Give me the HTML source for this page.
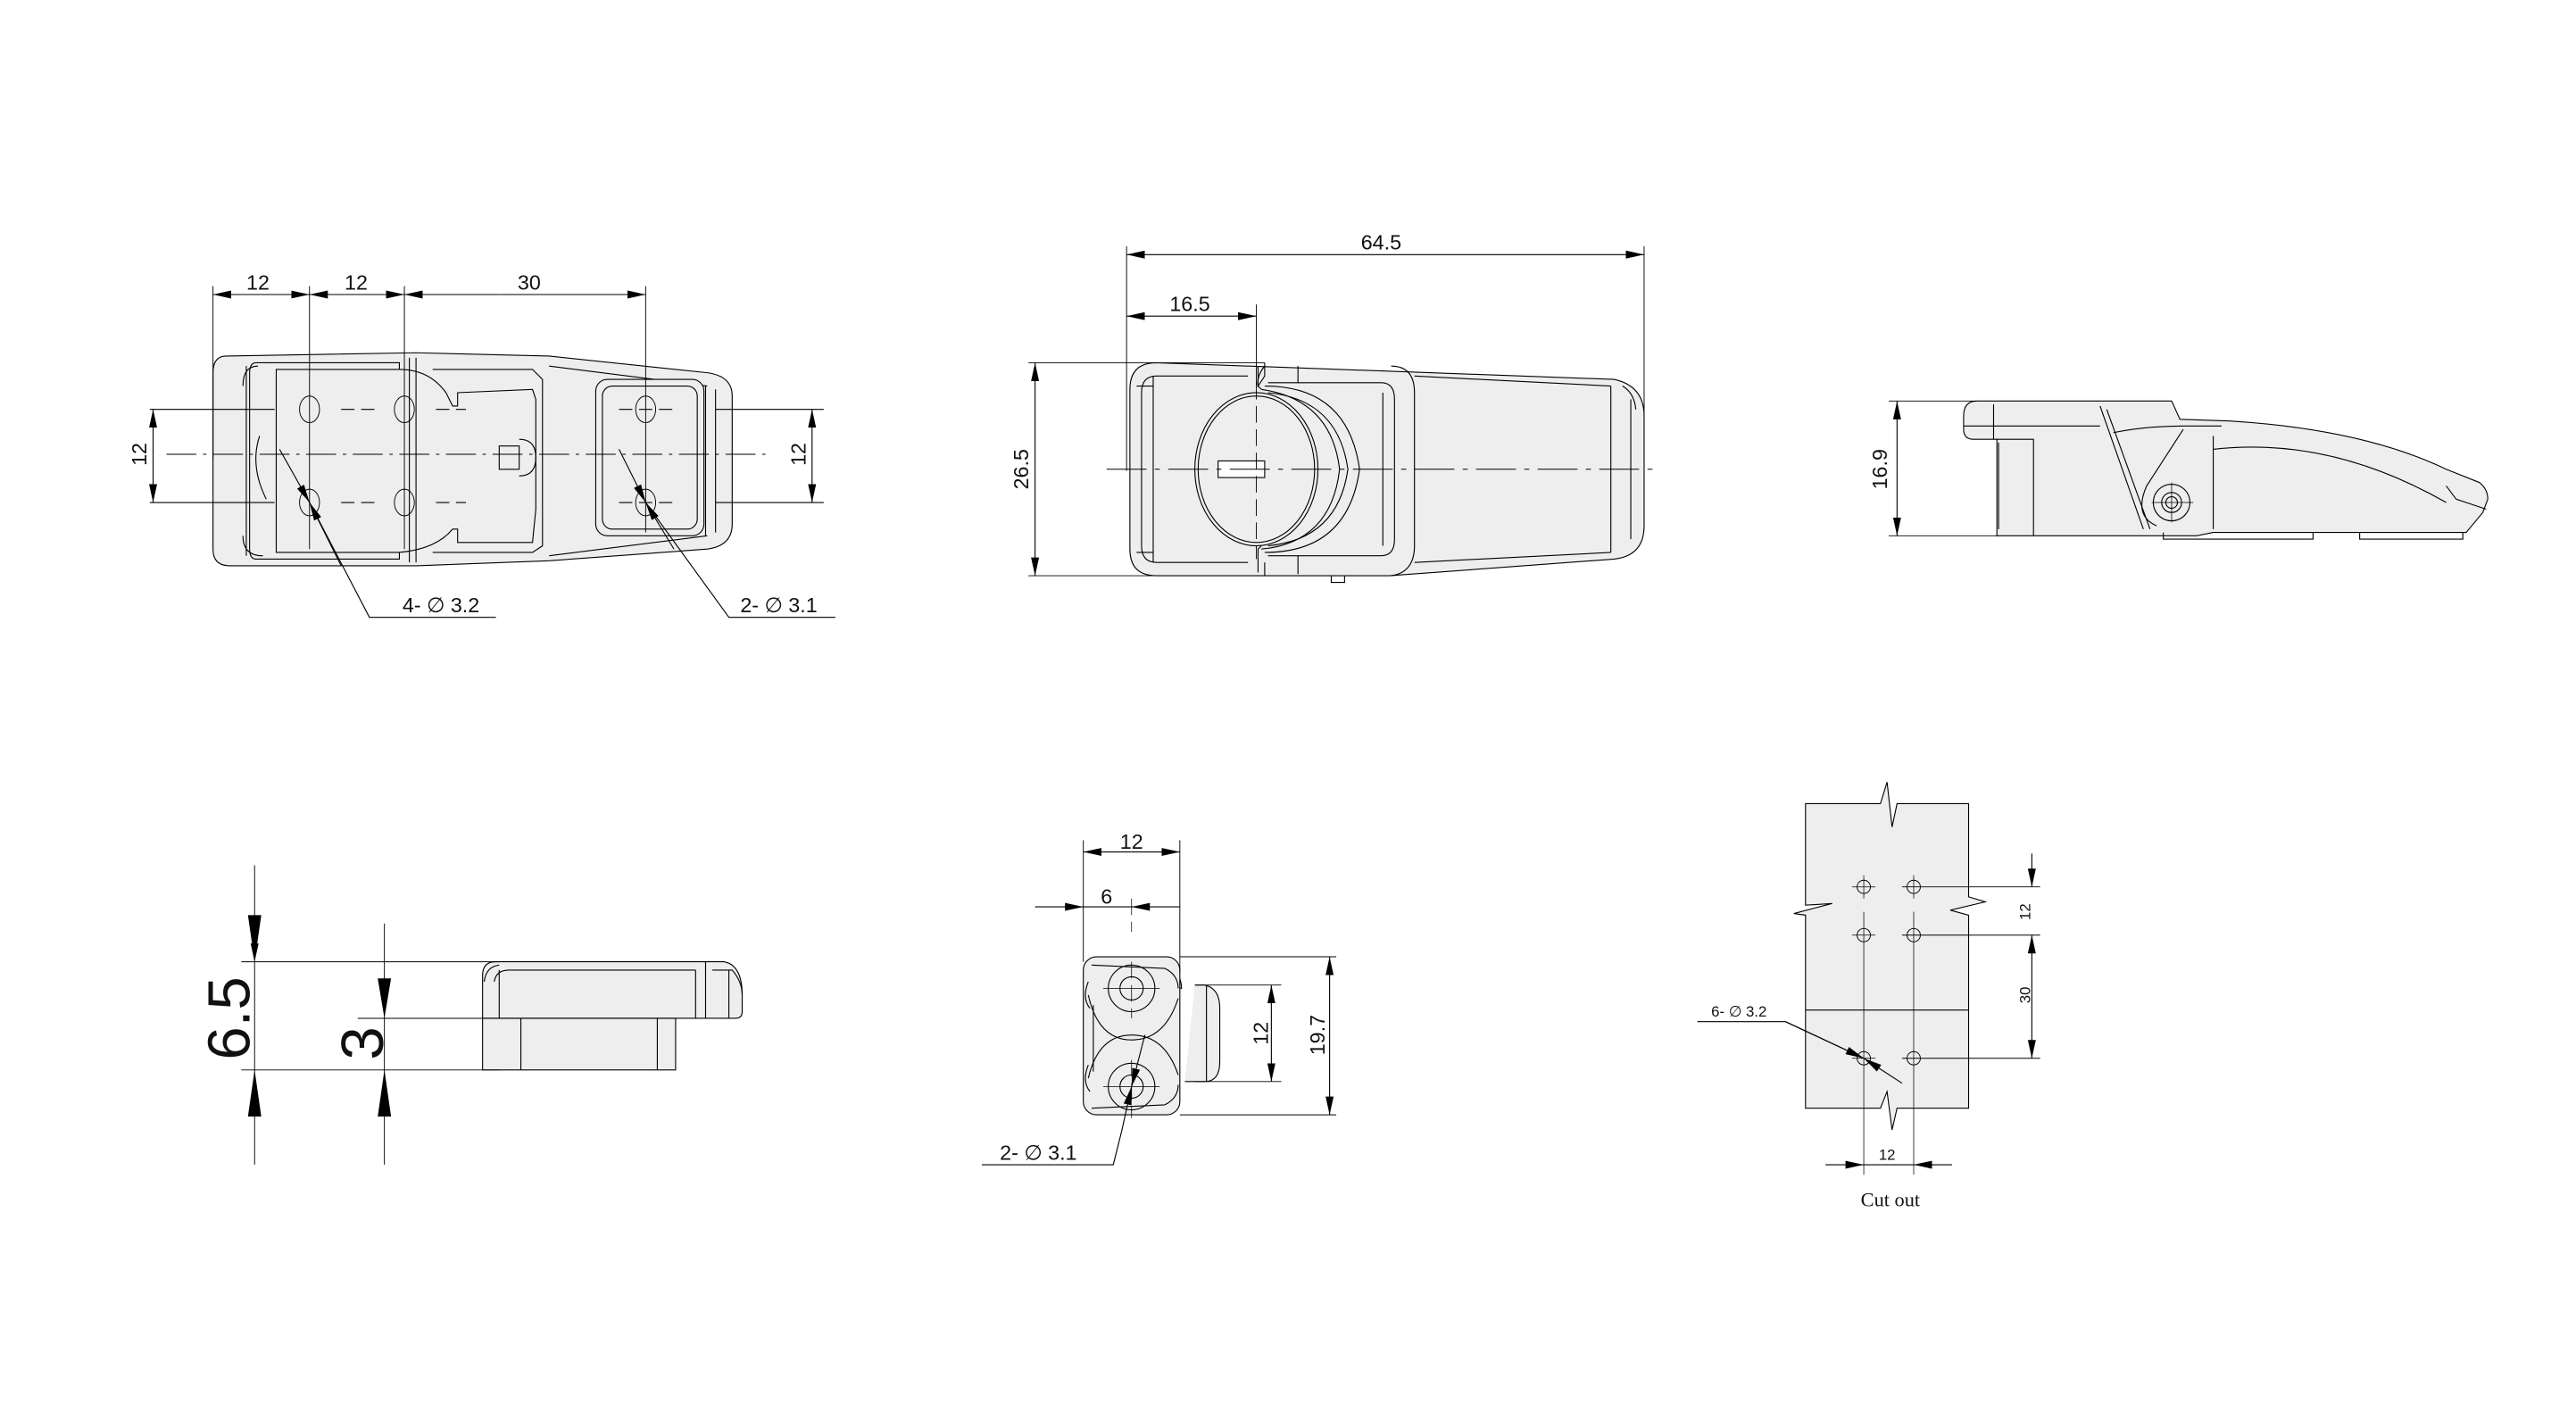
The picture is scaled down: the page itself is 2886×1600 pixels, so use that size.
<!DOCTYPE html>
<html><head><meta charset="utf-8"><style>
html,body{margin:0;padding:0;background:#fff;}
svg{display:block}
text{font-family:"Liberation Sans",sans-serif;fill:#111}
</style></head><body>
<svg width="2886" height="1600" viewBox="0 0 1548 858.2" xmlns="http://www.w3.org/2000/svg">
<defs>
<marker id="a" markerUnits="userSpaceOnUse" markerWidth="12" markerHeight="6" refX="11" refY="3" orient="auto-start-reverse" viewBox="0 0 12 6"><path d="M0,0.6 L11,3 L0,5.4z" fill="#000"/></marker>
</defs>
<g fill="none" stroke="#000" stroke-width="0.6">

<!-- ===== VIEW 1 top-left ===== -->
<g>
<path d="M136,214 Q128,214 128,224 L128,330 Q128,340 138,340 L250,340 L330,337 L425,330 Q440,328 440,315 L440,238 Q440,226 425,224 L330,214 L250,212 Z" fill="#eeeeee"/>
<path d="M148,220 L148,334 M155,220 Q146,220 146,232 M146,322 Q146,334 158,334" />
<path d="M154,218 L240,218 L240,336 L154,336 Q150,336 150,330 L150,224 Q150,218 154,218Z" />
<path d="M166,222 L240,222 Q258,222 268,236 L272,244 L275,244 L275,236 L320,234 L322,240 L322,306 L320,326 L275,326 L275,318 L272,318 Q262,330 240,332 L166,332 Z" fill="#eeeeee"/>
<path d="M260,222 L320,222 L326,228 L326,328 L320,332 L260,332" />
<path d="M300,268 L312,268 L312,282 L300,282 Z M312,264 Q322,264 322,275 Q322,286 312,286" />
<path d="M250,215 L250,338 M246,215 L246,338" />
<path d="M330,220 L425,232 M330,334 L425,322 M424,232 L424,322 M430,234 L430,320" />
<rect x="358" y="228" width="65" height="94" rx="7" fill="#eeeeee"/>
<rect x="362" y="232" width="57" height="86" rx="6"/>
<path d="M156,262 Q150,280 160,300" />
<g stroke-width="0.5">
<ellipse cx="186" cy="246" rx="6" ry="8"/><ellipse cx="243" cy="246" rx="6" ry="8"/>
<ellipse cx="186" cy="302" rx="6" ry="8"/><ellipse cx="243" cy="302" rx="6" ry="8"/>
<ellipse cx="388" cy="246" rx="6" ry="8"/><ellipse cx="388" cy="302" rx="6" ry="8"/>
</g>
<path d="M90,246 L165,246 M90,302 L165,302 M430,246 L495,246 M430,302 L495,302" />
<path d="M205,246 L225,246 M262,246 L280,246 M205,302 L225,302 M262,302 L280,302 M372,246 L405,246 M372,302 L405,302" stroke-dasharray="8 4"/>
<path d="M100,273 L460,273" stroke-dasharray="18 4 2 4" stroke-width="0.5"/>
<path d="M186,172 L186,330 M243,172 L243,330 M128,172 L128,276 M388,172 L388,320" stroke-width="0.5"/>
<line x1="157" y1="177" x2="128" y2="177" marker-end="url(#a)"/>
<line x1="157" y1="177" x2="186" y2="177" marker-end="url(#a)"/>
<line x1="214" y1="177" x2="186" y2="177" marker-end="url(#a)"/>
<line x1="214" y1="177" x2="243" y2="177" marker-end="url(#a)"/>
<line x1="300" y1="177" x2="243" y2="177" marker-end="url(#a)"/>
<line x1="300" y1="177" x2="388" y2="177" marker-end="url(#a)"/>
<line x1="92" y1="274" x2="92" y2="246" marker-end="url(#a)"/>
<line x1="92" y1="274" x2="92" y2="302" marker-end="url(#a)"/>
<line x1="488" y1="274" x2="488" y2="246" marker-end="url(#a)"/>
<line x1="488" y1="274" x2="488" y2="302" marker-end="url(#a)"/>
<line x1="168" y1="270" x2="186" y2="302" marker-end="url(#a)"/>
<path d="M186,302 L222,371 L298,371"/>
<line x1="205" y1="340" x2="186" y2="302" marker-end="url(#a)"/>
<line x1="372" y1="270" x2="388" y2="302" marker-end="url(#a)"/>
<path d="M388,302 L438,371 L502,371"/>
<line x1="405" y1="330" x2="388" y2="302" marker-end="url(#a)"/>
</g>

<!-- ===== VIEW 2 top-center ===== -->
<g>
<path d="M695,218 L970,228 Q988,232 988,250 L988,316 Q988,334 970,336 L835,346 L695,346 Q679,346 679,330 L679,234 Q679,218 695,218Z" fill="#eeeeee"/>
<path d="M693,226 L693,338 M683,232 L693,232 M683,332 L693,332 M750,226 L695,226 Q686,226 686,236 L686,328 Q686,338 695,338 L750,338" />
<path d="M760,218 L760,226 L756,232 Q755,226 760,220 M760,346 L760,338" />
<path d="M756,220 L756,232 L758,234 M756,330 L756,344 M756,330 L758,328" />
<path d="M758,234 Q800,240 805,282 Q800,326 758,330" />
<path d="M762,236 Q804,240 810,282 Q804,324 762,328" />
<path d="M760,232 Q810,232 817,282 Q810,332 760,332" />
<path d="M762,230 L830,230 Q838,230 838,240 L838,324 Q838,334 830,334 L762,334" />
<path d="M831,236 L831,328" />
<path d="M780,220 L780,230 M780,334 L780,345 M836,220 Q850,220 850,236 L850,328 Q850,344 836,346" />
<path d="M850,226 L968,232 M850,338 L968,332 M968,232 L968,332 M980,240 L980,324 M975,232 Q982,236 983,246" />
<ellipse cx="755" cy="282" rx="37" ry="46" fill="#eeeeee"/>
<ellipse cx="755" cy="282" rx="35" ry="44"/>
<rect x="732" y="277" width="28" height="10" fill="#fff"/>
<path d="M755,230 L755,336" stroke-dasharray="10 4" stroke-width="0.5"/>
<path d="M665,282 L995,282" stroke-dasharray="24 5 3 5" stroke-width="0.5"/>
<path d="M800,346 L800,350 L808,350 L808,346" />
<path d="M677,148 L677,283 M988,148 L988,283 M755,183 L755,232 M618,218 L760,218 M618,346 L760,346" stroke-width="0.5"/>
<line x1="830" y1="153" x2="677" y2="153" marker-end="url(#a)"/>
<line x1="830" y1="153" x2="988" y2="153" marker-end="url(#a)"/>
<line x1="716" y1="190" x2="677" y2="190" marker-end="url(#a)"/>
<line x1="716" y1="190" x2="755" y2="190" marker-end="url(#a)"/>
<line x1="622" y1="282" x2="622" y2="218" marker-end="url(#a)"/>
<line x1="622" y1="282" x2="622" y2="346" marker-end="url(#a)"/>
</g>

<!-- ===== VIEW 3 side ===== -->
<g>
<path d="M1188,241 L1305,241 L1310,252 L1340,253 Q1420,258 1470,282 L1490,290 Q1495,294 1495,300 L1492,308 L1482,320 L1330,320 L1320,322 L1200,322 L1200,264 L1186,264 Q1180,264 1180,258 L1180,250 Q1180,241 1188,241Z" fill="#eeeeee"/>
<path d="M1200,264 L1222,264 L1222,322 M1201,266 L1201,318 M1180,256 L1262,256 M1198,243 L1198,264" />
<path d="M1262,244 L1288,318 M1266,246 L1292,318 M1270,260 Q1290,256 1312,256 L1335,256" />
<path d="M1312,258 L1290,292 Q1282,310 1296,316 M1330,270 Q1400,262 1470,302" />
<path d="M1330,262 L1330,318 M1470,292 L1476,300 L1494,306" />
<circle cx="1305" cy="302" r="11" fill="#eeeeee"/><circle cx="1305" cy="302" r="6"/><circle cx="1305" cy="302" r="3.5"/>
<path d="M1293,302 L1318,302 M1305,290 L1305,314" stroke-width="0.4"/>
<path d="M1300,320 L1300,324 L1390,324 L1390,320 M1418,320 L1418,324 L1480,324 L1480,320" />
<path d="M1135,241 L1188,241 M1135,322 L1200,322" stroke-width="0.5"/>
<line x1="1140" y1="282" x2="1140" y2="241" marker-end="url(#a)"/>
<line x1="1140" y1="282" x2="1140" y2="322" marker-end="url(#a)"/>
</g>

<!-- ===== VIEW 4 bottom-left ===== -->
<g>
<path d="M298,578 L435,578 Q446,580 446,598 L446,608 Q446,612 442,612 L290,612 L290,586 Q290,578 298,578Z" fill="#eeeeee"/>
<rect x="290" y="612" width="116" height="31" fill="#eeeeee"/>
<path d="M291,590 Q292,581 300,580 M297,590 Q298,583 306,583 L418,583 M300,583 L300,612 M418,583 L418,612 M424,578 L424,612 M438,583 L438,612 M428,583 L440,583 Q446,590 446,598" />
<path d="M313,612 L313,643 M395,612 L395,643" />
<path d="M145,578 L300,578 M145,643 L300,643 M215,612 L290,612" stroke-width="0.5"/>
<path d="M153,520 L153,700 M231,555 L231,700" stroke-width="0.5"/>
<line x1="153" y1="540" x2="153" y2="578" marker-end="url(#a)" stroke-width="0"/>
<polygon points="149,550 157,550 153,578" fill="#000" stroke="none"/>
<polygon points="149,671 157,671 153,643" fill="#000" stroke="none"/>
<polygon points="227,588 235,588 231,612" fill="#000" stroke="none"/>
<polygon points="227,671 235,671 231,643" fill="#000" stroke="none"/>
</g>

<!-- ===== VIEW 5 bottom-center ===== -->
<g>
<path d="M718,592 L724,592 Q733,594 733,606 L733,638 Q733,650 724,650 L712,650" fill="#eeeeee"/>
<path d="M662,576 L700,580 Q710,584 710,594 Q704,592 704,598 Q690,614 680,614 Q660,614 656,600 Q652,596 652,590 Q654,578 662,576Z" fill="none"/>
<rect x="651" y="575" width="58" height="95" rx="8" fill="#eeeeee"/>
<path d="M656,580 L700,582 Q708,586 708,594 M656,666 L700,664 Q708,660 708,652 M654,590 Q650,600 655,606 M654,640 Q650,650 655,656 M657,604 L657,644 M725,592 L725,650" />
<path d="M654,598 Q660,625 680,625 Q700,625 708,600 M654,648 Q660,622 680,622 Q700,622 708,646" />
<circle cx="680" cy="594" r="14" /><circle cx="680" cy="594" r="7"/>
<circle cx="680" cy="653" r="14" /><circle cx="680" cy="653" r="7"/>
<path d="M663,594 L697,594 M663,653 L697,653" stroke-width="0.4"/>
<path d="M680,540 L680,560 M680,578 L680,612 M680,637 L680,672" stroke-dasharray="10 4" stroke-width="0.4"/>
<path d="M651,505 L651,578 M709,505 L709,584" stroke-width="0.5"/>
<path d="M709,575 L803,575 M709,670 L803,670 M718,592 L770,592 M718,650 L770,650" stroke-width="0.5"/>
<line x1="680" y1="512" x2="651" y2="512" marker-end="url(#a)"/>
<line x1="680" y1="512" x2="709" y2="512" marker-end="url(#a)"/>
<line x1="622" y1="545" x2="651" y2="545" marker-end="url(#a)"/>
<line x1="709" y1="545" x2="680" y2="545" marker-end="url(#a)"/>
<line x1="651" y1="545" x2="680" y2="545"/>
<line x1="764" y1="621" x2="764" y2="592" marker-end="url(#a)"/>
<line x1="764" y1="621" x2="764" y2="650" marker-end="url(#a)"/>
<line x1="799" y1="622" x2="799" y2="575" marker-end="url(#a)"/>
<line x1="799" y1="622" x2="799" y2="670" marker-end="url(#a)"/>
<line x1="688" y1="622" x2="680" y2="653" marker-end="url(#a)"/>
<line x1="674" y1="680" x2="680" y2="653" marker-end="url(#a)"/>
<path d="M674,680 L669,700 L590,700"/>
</g>

<!-- ===== VIEW 6 cut out ===== -->
<g>
<path d="M1085,483 L1130,483 L1134,470 L1137,497 L1140,483 L1183,483 L1183,539 L1193,542 L1172,547 L1183,550 L1183,666 L1140,666 L1137,679 L1134,656 L1130,666 L1085,666 L1085,550 L1078,549 L1101,543 L1085,544 Z" fill="#eeeeee"/>
<path d="M1085,607 L1183,607" />
<g stroke-width="0.5">
<circle cx="1120" cy="533" r="4"/><circle cx="1150" cy="533" r="4"/>
<circle cx="1120" cy="562" r="4"/><circle cx="1150" cy="562" r="4"/>
<circle cx="1120" cy="636" r="4"/><circle cx="1150" cy="636" r="4"/>
</g>
<path d="M1113,533 L1127,533 M1113,562 L1127,562 M1113,636 L1127,636 M1120,526 L1120,540 M1150,526 L1150,540" stroke-width="0.4"/>
<path d="M1120,548 L1120,706 M1150,548 L1150,706" stroke-width="0.4"/>
<path d="M1143,533 L1226,533 M1143,562 L1226,562 M1143,636 L1226,636" stroke-width="0.5"/>
<line x1="1221" y1="513" x2="1221" y2="533" marker-end="url(#a)"/>
<line x1="1221" y1="598" x2="1221" y2="562" marker-end="url(#a)"/>
<line x1="1221" y1="598" x2="1221" y2="636" marker-end="url(#a)"/>
<line x1="1097" y1="700" x2="1120" y2="700" marker-end="url(#a)"/>
<line x1="1173" y1="700" x2="1150" y2="700" marker-end="url(#a)"/>
<line x1="1120" y1="700" x2="1150" y2="700"/>
<path d="M1020,614 L1073,614 L1120,636" />
<line x1="1073" y1="614" x2="1120" y2="636" marker-end="url(#a)"/>
<line x1="1143" y1="651" x2="1120" y2="636" marker-end="url(#a)"/>
</g>
</g>

<!-- ===== TEXT ===== -->
<g font-size="12.5" text-anchor="middle">
<text x="155" y="174">12</text>
<text x="214" y="174">12</text>
<text x="318" y="174">30</text>
<text transform="translate(88,273) rotate(-90)">12</text>
<text transform="translate(484,273) rotate(-90)">12</text>
<text x="265" y="368">4- ∅ 3.2</text>
<text x="468" y="368">2- ∅ 3.1</text>
<text x="830" y="150">64.5</text>
<text x="715" y="187">16.5</text>
<text transform="translate(618,282) rotate(-90)">26.5</text>
<text transform="translate(1134,282) rotate(-90)">16.9</text>
<text x="680" y="510">12</text>
<text x="665" y="543">6</text>
<text transform="translate(762,621) rotate(-90)">12</text>
<text transform="translate(796,622) rotate(-90)">19.7</text>
<text x="624" y="697">2- ∅ 3.1</text>
</g>
<g text-anchor="middle">
<text transform="translate(150,612) rotate(-90)" font-size="36">6.5</text>
<text transform="translate(230,627) rotate(-90)" font-size="36">3</text>
</g>
<g font-size="9" text-anchor="middle">
<text transform="translate(1220,548) rotate(-90)">12</text>
<text transform="translate(1220,598) rotate(-90)">30</text>
<text x="1134" y="697">12</text>
<text x="1045" y="611">6- ∅ 3.2</text>
</g>
<text x="1136" y="725" font-size="12" text-anchor="middle" style="font-family:'Liberation Serif',serif">Cut out</text>
</svg>
</body></html>
